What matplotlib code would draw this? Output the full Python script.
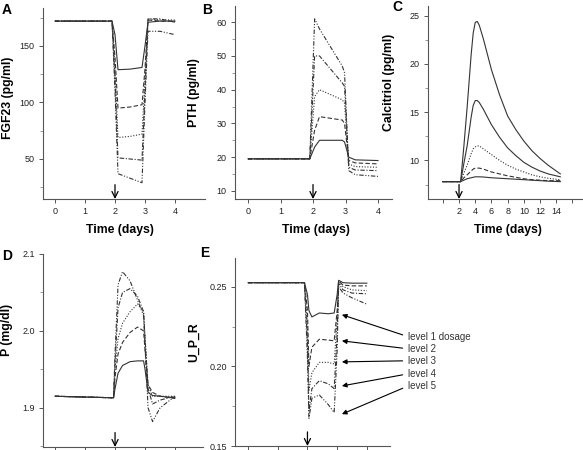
import matplotlib
matplotlib.use("Agg")
import matplotlib.pyplot as plt
from matplotlib.ticker import AutoMinorLocator

plt.rcParams['font.family'] = ['Liberation Sans', 'DejaVu Sans']

# ---- data ----
# A: FGF23
t_a = [0, 1.9, 2.0, 2.1, 2.5, 2.9, 3.0, 3.1, 3.5, 4.0]
fgf23 = [
    [172, 172, 160, 129, 129.5, 131, 150, 171, 172, 172],
    [172, 172, 140, 95, 96, 98, 130, 173, 172, 172],
    [172, 172, 130, 69, 70, 72, 120, 174, 173, 173],
    [172, 172, 120, 51, 50, 49, 110, 174, 174, 171],
    [172, 172, 110, 37, 33, 29, 100, 163, 163, 160],
]
# B: PTH
t_b = [0, 1.9, 2.05, 2.2, 2.9, 2.97, 3.1, 3.3, 4.0]
pth = [
    [19.5, 19.5, 23, 25, 25, 24.5, 20, 19.2, 19],
    [19.5, 19.5, 28, 32, 31, 30, 19, 18.3, 18],
    [19.5, 19.5, 38, 40, 37, 36, 18, 17.2, 17],
    [19.5, 19.5, 50, 50, 42, 41, 17, 16.2, 16],
    [19.5, 19.5, 61, 58, 47, 45, 16, 14.8, 14.3],
]
# C: Calcitriol
t_c = [0, 2.2, 2.6, 3, 3.5, 3.75, 4, 4.25, 4.5, 5, 5.5, 6, 7, 8, 9, 10, 11, 12, 13, 14.5]
calcitriol = [
    [7.8, 7.8, 7.95, 8.1, 8.2, 8.25, 8.3, 8.3, 8.3, 8.28, 8.24, 8.2, 8.15, 8.1, 8.05, 8.0, 7.95, 7.9, 7.85, 7.8],
    [7.8, 7.8, 8.2, 8.5, 8.9, 9.1, 9.2, 9.2, 9.2, 9.1, 8.95, 8.8, 8.6, 8.4, 8.25, 8.1, 8.0, 7.95, 7.9, 7.9],
    [7.8, 7.8, 8.7, 9.5, 10.7, 11.2, 11.4, 11.5, 11.5, 11.2, 10.9, 10.6, 10.0, 9.5, 9.1, 8.8, 8.5, 8.3, 8.15, 8.0],
    [7.8, 7.8, 9.7, 11.5, 14.5, 15.7, 16.2, 16.2, 16.0, 15.3, 14.5, 13.7, 12.4, 11.3, 10.5, 9.8, 9.3, 8.9, 8.6, 8.3],
    [7.8, 7.8, 11.5, 15.5, 21.0, 23.2, 24.3, 24.4, 24.0, 22.6, 21.0, 19.4, 16.8, 14.6, 13.2, 12.0, 11.0, 10.2, 9.5, 8.6],
]
# D: P
t_d = [0, 1.95, 2.0, 2.1, 2.25, 2.5, 2.75, 2.95, 3.0, 3.1, 3.25, 3.5, 4.0]
phos = [
    [1.915, 1.913, 1.925, 1.945, 1.955, 1.96, 1.961, 1.961, 1.95, 1.92, 1.916, 1.915, 1.913],
    [1.915, 1.913, 1.94, 1.97, 1.985, 1.998, 2.005, 2.0, 1.975, 1.93, 1.92, 1.915, 1.912],
    [1.915, 1.913, 1.95, 1.99, 2.01, 2.025, 2.035, 2.025, 1.99, 1.93, 1.915, 1.915, 1.915],
    [1.915, 1.913, 1.96, 2.03, 2.05, 2.055, 2.045, 2.025, 1.99, 1.925, 1.905, 1.91, 1.915],
    [1.915, 1.913, 1.97, 2.06, 2.077, 2.065, 2.04, 2.02, 1.98, 1.90, 1.882, 1.90, 1.915],
]
# E: U_P_R
t_e = [0, 1.9, 2.0, 2.05, 2.15, 2.4, 2.7, 2.9, 3.0, 3.05, 3.2, 3.5, 4.0]
upr = [
    [0.2525, 0.2525, 0.245, 0.235, 0.231, 0.2335, 0.233, 0.2335, 0.245, 0.254, 0.2525, 0.2522, 0.2522],
    [0.2525, 0.2525, 0.235, 0.200, 0.212, 0.217, 0.2165, 0.216, 0.235, 0.2535, 0.251, 0.2505, 0.2505],
    [0.2525, 0.2525, 0.225, 0.185, 0.196, 0.2025, 0.2025, 0.2015, 0.230, 0.253, 0.250, 0.248, 0.2475],
    [0.2525, 0.2525, 0.215, 0.172, 0.186, 0.191, 0.189, 0.186, 0.220, 0.252, 0.248, 0.246, 0.2455],
    [0.2525, 0.2525, 0.205, 0.167, 0.180, 0.182, 0.176, 0.171, 0.210, 0.250, 0.246, 0.243, 0.239],
]
level_labels = ['level 1 dosage', 'level 2', 'level 3', 'level 4', 'level 5']
level_targets = [0.2324, 0.216, 0.2028, 0.1877, 0.170]
label_y = [0.2186, 0.211, 0.2035, 0.1953, 0.1877]

# line styles: solid, dashed, dotted, dash-dot, dash-dot-dot
dashes = [None, (4, 2), (1, 1.5), (4, 1.5, 1, 1.5), (4, 1.5, 1, 1.5, 1, 1.5)]
dashes_c = [None, (4, 2), (1, 1.5), None, None]
lc = '#333333'
spine_c = '#555555'

fig = plt.figure(figsize=(5.83, 4.5), dpi=100)
W, H = 583, 450


def make_ax(l, r, t, b):
    return fig.add_axes([l / W, 1 - b / H, (r - l) / W, (b - t) / H])


ax1 = make_ax(43, 205, 8, 199)
ax2 = make_ax(235, 392, 6, 199)
ax3 = make_ax(428, 583, 6, 199)
ax4 = make_ax(43, 203, 254, 447)
ax5 = make_ax(235, 390, 258, 446)


def draw(ax, t, curves, dl):
    for ys, d in zip(curves, dl):
        line, = ax.plot(t, ys, color=lc, lw=0.8)
        if d is not None:
            line.set_dashes(d)


draw(ax1, t_a, fgf23, dashes)
draw(ax2, t_b, pth, dashes)
draw(ax3, t_c, calcitriol, dashes_c)
draw(ax4, t_d, phos, dashes)
draw(ax5, t_e, upr, dashes)

ax1.set_xlim(-0.4, 5.0)
ax1.set_ylim(14.6, 183.6)
ax1.set_yticks([50, 100, 150])
ax2.set_xlim(-0.4, 4.43)
ax2.set_ylim(7.6, 64.8)
ax2.set_yticks([10, 20, 30, 40, 50, 60])
ax3.set_xlim(-1.83, 17.3)
ax3.set_ylim(6.0, 26.0)
ax3.set_yticks([10, 15, 20, 25])
ax3.set_xticks(range(0, 17, 2))
ax3.set_xticklabels(['', '2', '4', '6', '8', '10', '12', '14', ''])
ax4.set_xlim(-0.4, 4.93)
ax4.set_ylim(1.849, 2.1)
ax4.set_yticks([1.9, 2.0, 2.1])
ax5.set_xlim(-0.44, 4.78)
ax5.set_ylim(0.15, 0.268)
ax5.set_yticks([0.15, 0.20, 0.25])
ax5.set_yticklabels(['0.15', '0.20', '0.25'])

for ax in (ax1, ax2, ax4, ax5):
    ax.set_xticks([0, 1, 2, 3, 4])
for ax in (ax4, ax5):
    ax.set_xticklabels([])

for ax in (ax1, ax2, ax3, ax4, ax5):
    ax.spines['top'].set_visible(False)
    ax.spines['right'].set_visible(False)
    ax.spines['left'].set_color(spine_c)
    ax.spines['bottom'].set_color(spine_c)
    ax.spines['left'].set_linewidth(0.8)
    ax.spines['bottom'].set_linewidth(0.8)
    ax.yaxis.set_minor_locator(AutoMinorLocator(2))
    ax.tick_params(direction='out', length=3, width=0.7, color=spine_c,
                   labelsize=6.5, pad=3, labelcolor='#222222')
    ax.tick_params(which='minor', direction='out', length=2, width=0.6, color='#888888')
    # dosing arrow at day 2
    ax.annotate('', xy=(2, 0), xycoords=('data', 'axes fraction'),
                xytext=(2, 0.075), textcoords=('data', 'axes fraction'),
                arrowprops=dict(arrowstyle='->', color='k', lw=0.9,
                                shrinkA=0, shrinkB=0, mutation_scale=11))

lab = dict(fontsize=8.8, fontweight='bold')
ax1.set_ylabel('FGF23 (pg/ml)', **lab)
ax1.yaxis.set_label_coords(-0.179, 0.53)
ax2.set_ylabel('PTH (pg/ml)', **lab)
ax2.yaxis.set_label_coords(-0.223, 0.55)
ax3.set_ylabel('Calcitriol (pg/ml)', **lab)
ax3.yaxis.set_label_coords(-0.213, 0.606)
ax4.set_ylabel('P (mg/dl)', **lab)
ax4.yaxis.set_label_coords(-0.185, 0.606)
ax5.set_ylabel('U_P_R', **lab)
ax5.yaxis.set_label_coords(-0.226, 0.553)

ax1.set_xlabel('Time (days)', **lab)
ax1.xaxis.set_label_coords(0.475, -0.131)
ax2.set_xlabel('Time (days)', **lab)
ax2.xaxis.set_label_coords(0.516, -0.131)
ax3.set_xlabel('Time (days)', **lab)
ax3.xaxis.set_label_coords(0.516, -0.131)

# level annotations in E
for txt, yt, yl in zip(level_labels, level_targets, label_y):
    ax5.annotate(txt, xy=(3.16, yt), xytext=(5.39, yl), fontsize=7,
                 color='#333333', va='center', ha='left', annotation_clip=False,
                 arrowprops=dict(arrowstyle='-|>', color='k', lw=0.8,
                                 relpos=(0, 0.5), shrinkA=2, shrinkB=0,
                                 mutation_scale=7))

# panel letters
for letter, x, y in [('A', 2, 14), ('B', 202, 14), ('C', 392, 11),
                     ('D', 2, 260), ('E', 200, 257)]:
    fig.text(x / W, 1 - y / H, letter, fontsize=10, fontweight='bold')

fig.savefig('out.png', dpi=100)
